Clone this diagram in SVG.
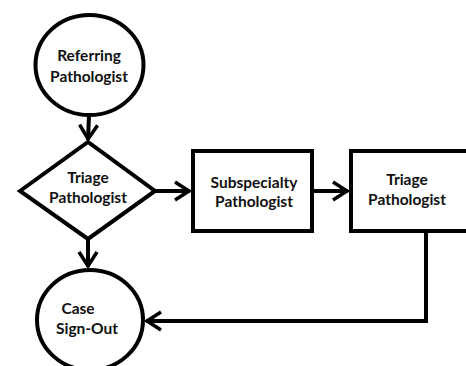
<svg xmlns="http://www.w3.org/2000/svg" width="466" height="366" viewBox="0 0 466 366">
<defs>
<style>
.shape{fill:#fff;stroke:#000;stroke-width:4}
.conn{fill:none;stroke:#000;stroke-width:4}
.lbl{font-family:Lato,"Liberation Sans",sans-serif;font-weight:bold;font-size:15.5px;fill:#111;text-anchor:middle}
</style>
<marker id="arr" markerUnits="userSpaceOnUse" markerWidth="30" markerHeight="30" viewBox="-20 -15 30 30" refX="0" refY="0" orient="auto">
<path d="M-15,-9 L-1,0 L-15,9" fill="none" stroke="#000" stroke-width="3.5"/>
</marker>
</defs>
<rect width="466" height="366" fill="#fff"/>
<g id="connectors">
<line class="conn" x1="89" y1="115" x2="88" y2="140" marker-end="url(#arr)"/>
<line class="conn" x1="155" y1="191" x2="190" y2="191" marker-end="url(#arr)"/>
<line class="conn" x1="312" y1="191" x2="348" y2="191" marker-end="url(#arr)"/>
<line class="conn" x1="88" y1="238" x2="88" y2="267" marker-end="url(#arr)"/>
<polyline class="conn" points="426,231 426,321 146,321" marker-end="url(#arr)"/>
</g>
<g id="referring">
<ellipse class="shape" cx="89.5" cy="65" rx="54" ry="50"/>
<text class="lbl" x="89" y="61">Referring</text>
<text class="lbl" x="89" y="82">Pathologist</text>
</g>
<g id="triage1">
<polygon class="shape" points="20,191 88,142 155,191 88,239"/>
<text class="lbl" x="88" y="183">Triage</text>
<text class="lbl" x="88" y="203">Pathologist</text>
</g>
<g id="subspecialty">
<rect class="shape" x="193" y="151" width="119" height="80"/>
<text class="lbl" x="254" y="188">Subspecialty</text>
<text class="lbl" x="254" y="207">Pathologist</text>
</g>
<g id="triage2">
<rect class="shape" x="351" y="151" width="122" height="80"/>
<text class="lbl" x="407" y="185">Triage</text>
<text class="lbl" x="407" y="205">Pathologist</text>
</g>
<g id="signout">
<ellipse class="shape" cx="90" cy="320" rx="53" ry="50"/>
<text class="lbl" x="78" y="314">Case</text>
<text class="lbl" x="87" y="334">Sign-Out</text>
</g>
</svg>
